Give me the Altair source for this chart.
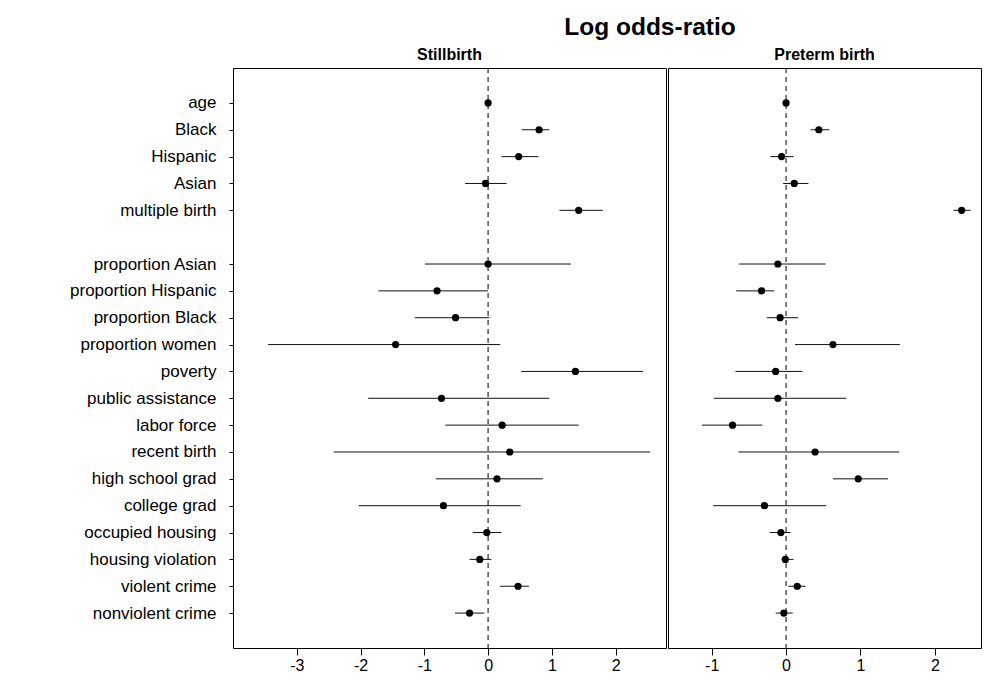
import altair as alt
import pandas as pd

individual = ["age", "Black", "Hispanic", "Asian", "multiple birth"]
neighborhood = ["proportion Asian", "proportion Hispanic", "proportion Black",
                "proportion women", "poverty", "public assistance", "labor force",
                "recent birth", "high school grad", "college grad", "occupied housing",
                "housing violation", "violent crime", "nonviolent crime"]
variables = individual + neighborhood
rows_domain = individual + [""] + neighborhood
row_index = [rows_domain.index(v) + 1 for v in variables]

still_est = [0.00, 0.80, 0.48, -0.04, 1.42, 0.00, -0.80, -0.51, -1.45, 1.37, -0.73, 0.22, 0.34, 0.14, -0.70, -0.02, -0.13, 0.47, -0.29]
still_lo = [-0.02, 0.53, 0.21, -0.36, 1.12, -0.99, -1.72, -1.15, -3.45, 0.52, -1.88, -0.67, -2.42, -0.82, -2.03, -0.24, -0.29, 0.19, -0.52]
still_hi = [0.02, 0.96, 0.79, 0.29, 1.80, 1.30, 0.00, 0.02, 0.19, 2.43, 0.96, 1.42, 2.54, 0.86, 0.51, 0.21, 0.05, 0.64, -0.06]

pre_est = [0.00, 0.44, -0.06, 0.11, 2.36, -0.11, -0.33, -0.08, 0.63, -0.14, -0.11, -0.72, 0.39, 0.97, -0.29, -0.07, -0.01, 0.15, -0.03]
pre_lo = [-0.01, 0.33, -0.21, -0.04, 2.25, -0.63, -0.67, -0.26, 0.12, -0.68, -0.97, -1.13, -0.64, 0.63, -0.98, -0.22, -0.06, 0.03, -0.14]
pre_hi = [0.01, 0.58, 0.10, 0.30, 2.48, 0.53, -0.16, 0.16, 1.53, 0.22, 0.81, -0.32, 1.52, 1.37, 0.54, 0.06, 0.10, 0.26, 0.09]

still_ticks = [-3, -2, -1, 0, 1, 2]
pre_ticks = [-1, 0, 1, 2]

FONT = "Liberation Sans"
label_array = "[" + ",".join("'" + r + "'" for r in rows_domain) + "]"


def panel(title, est, lo, hi, xdomain, xticks, width, show_y):
    df = pd.DataFrame({"variable": variables, "row": row_index,
                       "est": est, "lo": lo, "hi": hi})
    base = alt.Chart(df)
    xscale = alt.Scale(domain=xdomain, nice=False, zero=False)
    xaxis = alt.Axis(values=xticks, grid=False, domain=False, tickSize=7,
                     tickColor="black", labelFontSize=16, labelColor="black",
                     labelFont=FONT, labelPadding=2, title=None, labelFlush=False,
                     labelExpr="'' + datum.value")
    if show_y:
        yaxis = alt.Axis(values=row_index, grid=False, domain=False, tickSize=4,
                         tickColor="black", labelFontSize=17, labelColor="black",
                         labelFont=FONT, labelPadding=13, minExtent=200,
                         maxExtent=200, title=None,
                         labelExpr=label_array + "[datum.value - 1]")
    else:
        yaxis = None
    y = alt.Y("row:Q",
              scale=alt.Scale(domain=[-0.3, 21.3], reverse=True, nice=False, zero=False),
              axis=yaxis, title=None)
    zero = alt.Chart(pd.DataFrame({"z": [0]})).mark_rule(
        color="black", strokeWidth=1, strokeDash=[5, 4]
    ).encode(x=alt.X("z:Q", scale=xscale, axis=xaxis, title=None))
    bars = base.mark_rule(color="#111111", strokeWidth=1).encode(
        x=alt.X("lo:Q", scale=xscale, axis=xaxis, title=None),
        x2="hi:Q",
        y=y,
    )
    pts = base.mark_circle(color="black", opacity=1, size=52).encode(
        x=alt.X("est:Q", scale=xscale, axis=xaxis, title=None),
        y=y,
    )
    return alt.layer(zero, bars, pts).properties(
        width=width, height=580,
        title=alt.TitleParams(title, fontSize=16, font=FONT, fontWeight="bold",
                              anchor="middle", offset=5, color="black"),
    )


left = panel("Stillbirth", still_est, still_lo, still_hi, [-4.0, 2.79], still_ticks, 433, True)
right = panel("Preterm birth", pre_est, pre_lo, pre_hi, [-1.587, 2.62], pre_ticks, 313, False)

chart = alt.hconcat(left, right, spacing=0).properties(
    title=alt.TitleParams("Log odds-ratio", fontSize=24.5, font=FONT,
                          fontWeight="bold", anchor="middle", dx=143,
                          offset=6, color="black"),
    padding={"left": 24, "top": 6, "right": 5, "bottom": 5},
    background="white",
).configure_view(stroke="black", strokeWidth=1)

chart.save("out.html", embed_options={"renderer": "svg", "actions": False})
